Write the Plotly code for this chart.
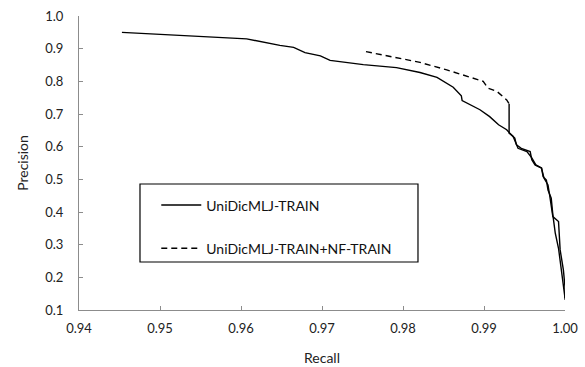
import plotly.graph_objects as go

# UniDicMLJ-TRAIN (solid)
recall_a = [0.9453, 0.9607, 0.9648, 0.9665, 0.9679, 0.9698, 0.9710, 0.9751, 0.9792, 0.9821,
            0.9842, 0.9862, 0.9872, 0.9873, 0.9895, 0.9907, 0.9918, 0.9928, 0.9932, 0.9938,
            0.9940, 0.9946, 0.9957, 0.9959, 0.9963, 0.9971, 0.9973, 0.9977, 0.9979, 0.9983,
            0.9985, 0.9988, 0.9992, 0.9994, 0.9996, 0.9998, 1.0000]
precision_a = [0.950, 0.930, 0.910, 0.904, 0.888, 0.878, 0.864, 0.851, 0.842, 0.827,
               0.812, 0.782, 0.756, 0.741, 0.713, 0.692, 0.667, 0.652, 0.641, 0.626,
               0.606, 0.595, 0.585, 0.560, 0.544, 0.534, 0.508, 0.498, 0.467, 0.442,
               0.391, 0.335, 0.289, 0.253, 0.222, 0.171, 0.137]

# UniDicMLJ-TRAIN+NF-TRAIN (dashed)
recall_b = [0.97543, 0.9784, 0.9821, 0.9854, 0.9879, 0.9899, 0.9905, 0.9916, 0.9928, 0.9931,
            0.9931, 0.9936, 0.9942, 0.9953, 0.9959, 0.9964, 0.9971, 0.9974, 0.9979, 0.9981,
            0.9985, 0.9992, 0.9994, 0.9998, 1.0000, 1.0000]
precision_b = [0.891, 0.876, 0.858, 0.835, 0.815, 0.800, 0.779, 0.769, 0.743, 0.731,
               0.641, 0.631, 0.595, 0.585, 0.566, 0.544, 0.535, 0.504, 0.483, 0.452,
               0.386, 0.371, 0.284, 0.223, 0.171, 0.131]

name_a = "UniDicMLJ-TRAIN"
name_b = "UniDicMLJ-TRAIN+NF-TRAIN"
x_ticks = [0.94, 0.95, 0.96, 0.97, 0.98, 0.99, 1.00]
y_ticks = [0.1, 0.2, 0.3, 0.4, 0.5, 0.6, 0.7, 0.8, 0.9, 1.0]

split = 10  # dashed part ends at the top of the vertical drop

fig = go.Figure()
fig.add_trace(go.Scatter(x=recall_a, y=precision_a, mode="lines", name=name_a,
                         legendgroup="a", line=dict(color="black", width=1.4)))
fig.add_trace(go.Scatter(x=recall_b[:split], y=precision_b[:split], mode="lines", name=name_b,
                         legendgroup="b", line=dict(color="black", width=1.4, dash="6px,4px")))
fig.add_trace(go.Scatter(x=recall_b[split - 1:], y=precision_b[split - 1:], mode="lines",
                         name=name_b, legendgroup="b", showlegend=False,
                         line=dict(color="black", width=1.4)))

# legend frame
fig.add_shape(type="rect", xref="paper", yref="paper",
              x0=0.1255, x1=0.6975, y0=0.1633, y1=0.4286,
              line=dict(color="black", width=1.2), fillcolor="white", layer="below")

font_family = "Lato, 'Open Sans', sans-serif"
fig.update_layout(
    width=585, height=367,
    margin=dict(l=79, r=20, t=16, b=57),
    paper_bgcolor="white", plot_bgcolor="white",
    font=dict(family=font_family, size=13, color="#222"),
    showlegend=True,
    legend=dict(x=0.159, y=0.41, xanchor="left", yanchor="top",
                borderwidth=0, bgcolor="rgba(0,0,0,0)",
                font=dict(size=14, color="#111"), traceorder="grouped",
                tracegroupgap=22, itemwidth=40),
    xaxis=dict(range=[0.94, 1.0], tickvals=x_ticks, tickformat=".2f", automargin=False,
               showgrid=False, zeroline=False, showline=True, linecolor="#8c8c8c",
               linewidth=1, ticks="inside", ticklen=4, tickcolor="#8c8c8c",
               ticklabelstandoff=6,
               title=dict(text="Recall", font=dict(size=14, color="#222"), standoff=18)),
    yaxis=dict(range=[0.1, 1.0], tickvals=y_ticks, tickformat=".1f", automargin=False,
               showgrid=False, zeroline=False, showline=True, linecolor="#8c8c8c",
               linewidth=1, ticks="inside", ticklen=4, tickcolor="#8c8c8c",
               ticklabelstandoff=12,
               title=dict(text="Precision", font=dict(size=14, color="#222"), standoff=13)),
)

fig.write_html("out.html", config={"displayModeBar": False},
               post_script="document.body.style.margin='0';")
